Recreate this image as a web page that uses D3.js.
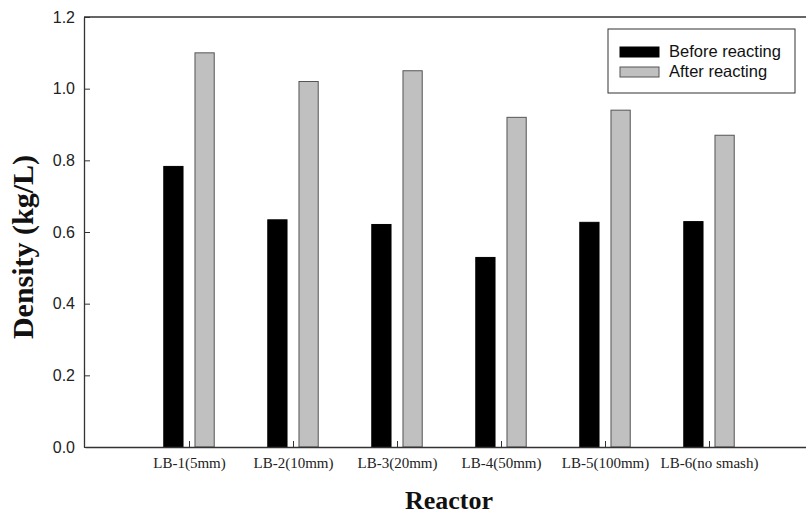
<!DOCTYPE html>
<html>
<head>
<meta charset="utf-8">
<script src="https://cdn.jsdelivr.net/npm/d3@7"></script>
<style>
  body { margin: 0; background: #fff; }
  svg { display: block; }
</style>
</head>
<body>
<script>
var width = 806,
    height = 515;

// data
var reactors = ["LB-1(5mm)", "LB-2(10mm)", "LB-3(20mm)", "LB-4(50mm)", "LB-5(100mm)", "LB-6(no smash)"];
var beforeValues = [0.783, 0.634, 0.621, 0.529, 0.627, 0.629];
var afterValues = [1.10, 1.02, 1.05, 0.92, 0.94, 0.87];
var yTicks = [0.0, 0.2, 0.4, 0.6, 0.8, 1.0, 1.2];
var seriesNames = ["Before reacting", "After reacting"];
var seriesColors = ["#000000", "#c0c0c0"];

// note: "top" is taken by window.top, so plot edges get their own names
var plotLeft = 84, plotTop = 17, plotBottom = 447;

var svg = d3.select("body").append("svg")
    .attr("width", width)
    .attr("height", height);

var x = d3.scaleLinear().domain([0, 7]).range([85, 813]);
var y = d3.scaleLinear().domain([0, 1.2]).range([plotBottom, plotTop]);

var barW = 0.185, offset = 0.15;

var series = [beforeValues, afterValues];

series.forEach(function(vals, s) {
  svg.append("g").selectAll("rect")
    .data(vals)
    .enter().append("rect")
      .attr("x", function(d, i) { return x(i + 1 + (s == 0 ? -offset : offset) - barW / 2); })
      .attr("y", function(d) { return y(d); })
      .attr("width", x(barW) - x(0))
      .attr("height", function(d) { return plotBottom - y(d); })
      .attr("fill", seriesColors[s])
      .attr("stroke", s == 0 ? "#000" : "#555")
      .attr("stroke-width", 1);
});

// y axis
var yAxis = svg.append("g")
    .attr("transform", "translate(" + plotLeft + ",0)")
    .call(d3.axisLeft(y).tickValues(yTicks).tickFormat(d3.format(".1f")).tickSizeInner(-6).tickSizeOuter(0).tickPadding(9));
yAxis.select(".domain").attr("stroke", "#333").attr("stroke-width", 1.3);
yAxis.selectAll(".tick line").attr("stroke", "#333");
yAxis.selectAll("text")
    .attr("font-family", "Liberation Sans, Arial, sans-serif")
    .attr("font-size", 16)
    .attr("fill", "#222");

// x axis
var xAxis = svg.append("g")
    .attr("transform", "translate(0," + plotBottom + ")")
    .call(d3.axisBottom(x).tickValues([1, 2, 3, 4, 5, 6])
      .tickFormat(function(d) { return reactors[d - 1]; })
      .tickSizeInner(-6).tickSizeOuter(0).tickPadding(10));
xAxis.select(".domain").attr("stroke", "#333").attr("stroke-width", 1.3);
xAxis.selectAll(".tick line").attr("stroke", "#333");
xAxis.selectAll("text")
    .attr("font-family", "Liberation Serif, Times New Roman, serif")
    .attr("font-size", 15)
    .attr("fill", "#222");

// top frame line
svg.append("line")
    .attr("x1", plotLeft).attr("x2", width)
    .attr("y1", plotTop).attr("y2", plotTop)
    .attr("stroke", "#333").attr("stroke-width", 1.3);

// axis titles
svg.append("text")
    .attr("x", 449).attr("y", 509)
    .attr("text-anchor", "middle")
    .attr("font-family", "Liberation Serif, Times New Roman, serif")
    .attr("font-weight", "bold")
    .attr("font-size", 26)
    .attr("fill", "#111")
    .text("Reactor");

svg.append("text")
    .attr("transform", "translate(33,247) rotate(-90)")
    .attr("text-anchor", "middle")
    .attr("font-family", "Liberation Serif, Times New Roman, serif")
    .attr("font-weight", "bold")
    .attr("font-size", 30)
    .attr("fill", "#111")
    .text("Density (kg/L)");

// legend
var legend = svg.append("g");
legend.append("rect")
    .attr("x", 608).attr("y", 29)
    .attr("width", 187).attr("height", 64)
    .attr("fill", "#fff")
    .attr("stroke", "#333");

seriesNames.forEach(function(name, i) {
  legend.append("rect")
    .attr("x", 620).attr("y", 47 + i * 20)
    .attr("width", 39).attr("height", 10)
    .attr("fill", seriesColors[i])
    .attr("stroke", i == 0 ? "#000" : "#555");
  legend.append("text")
    .attr("x", 669).attr("y", 57 + i * 20)
    .attr("font-family", "Liberation Sans, Arial, sans-serif")
    .attr("font-size", 16.5)
    .attr("fill", "#111")
    .text(name);
});
</script>
</body>
</html>
